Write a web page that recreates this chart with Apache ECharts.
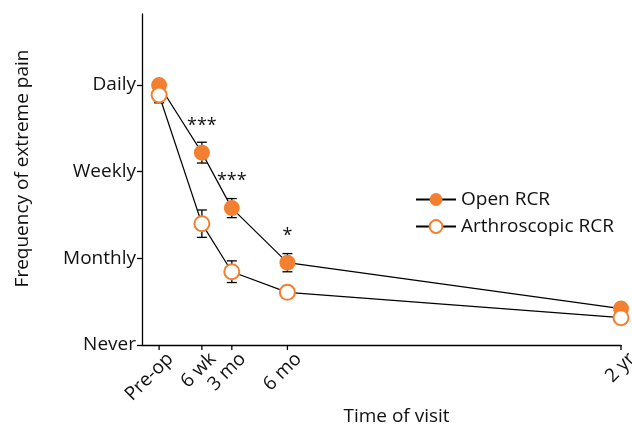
<!DOCTYPE html>
<html>
<head>
<meta charset="utf-8">
<script src="https://cdn.jsdelivr.net/npm/echarts@6/dist/echarts.min.js"></script>
<style>html,body{margin:0;padding:0;background:#fff;}#c{width:632px;height:426px;}</style>
</head>
<body>
<div id="c"></div>
<script>
const categories = ['Pre-op', '6 wk', '3 mo', '6 mo', '2 yr'];
const visitWeeks = [-4, 6, 13, 26, 104];
const openMean = [3.0, 2.22, 1.58, 0.95, 0.42];
const openErr = [0.05, 0.12, 0.11, 0.105, 0.04];
const arthroMean = [2.885, 1.40, 0.846, 0.608, 0.315];
const arthroErr = [0.09, 0.158, 0.125, 0.07, 0.04];
const significance = ['', '***', '***', '*', ''];
const yTickValues = [0, 1, 2, 3];
const yTickLabels = ['Never', 'Monthly', 'Weekly', 'Daily'];

const ORANGE = '#F28030';
const FONT = 'Open Sans';
const FS = 19;
const Y_MIN = 0;

const chart = echarts.init(document.getElementById('c'), null, {renderer: 'canvas'});

function errData(mean, err) {
  return visitWeeks.map((x, i) => [x, mean[i], err[i]]);
}
function errRender(params, api) {
  const x = api.value(0), y = api.value(1), e = api.value(2);
  const t = api.coord([x, y + e]);
  const b = api.coord([x, y - e]);
  const w = 5;
  const st = {stroke: '#000', lineWidth: 1.3};
  return {
    type: 'group',
    children: [
      {type: 'line', shape: {x1: t[0], y1: t[1], x2: b[0], y2: b[1]}, style: st},
      {type: 'line', shape: {x1: t[0] - w, y1: t[1], x2: t[0] + w, y2: t[1]}, style: st},
      {type: 'line', shape: {x1: b[0] - w, y1: b[1], x2: b[0] + w, y2: b[1]}, style: st}
    ]
  };
}
// x-axis ticks and rotated category labels, placed through the axis scale
function xLabelRender(params, api) {
  const x = api.value(0);
  const p = api.coord([x, Y_MIN]);
  return {
    type: 'group',
    children: [
      {type: 'line', shape: {x1: p[0], y1: p[1], x2: p[0], y2: p[1] + 5},
       style: {stroke: '#000', lineWidth: 1.3}},
      {type: 'text', x: p[0] + 11, y: p[1] + 11, rotation: Math.PI / 4,
       style: {text: categories[params.dataIndex], align: 'right', verticalAlign: 'middle',
               fontSize: FS, fontFamily: FONT, fill: '#111'}}
    ]
  };
}

const option = {
  animation: false,
  textStyle: {fontFamily: FONT},
  grid: {left: 142, right: 11, top: 14, bottom: 81, containLabel: false, outerBoundsMode: 'none'},
  legend: {
    left: 410, top: 185, orient: 'vertical',
    itemWidth: 40, itemHeight: 16, itemGap: 8,
    textStyle: {fontSize: FS, color: '#111', fontFamily: FONT},
    data: ['Open RCR', 'Arthroscopic RCR']
  },
  xAxis: {
    type: 'value', min: -8, max: 104,
    name: 'Time of visit', nameLocation: 'middle', nameGap: 62,
    nameTextStyle: {fontSize: FS, color: '#111', padding: [0, 0, 0, 30]},
    axisLine: {onZero: false, lineStyle: {color: '#000', width: 1.3}},
    axisTick: {show: false},
    axisLabel: {show: false},
    splitLine: {show: false}
  },
  yAxis: {
    type: 'value', min: Y_MIN, max: 3.82,
    name: 'Frequency of extreme pain', nameLocation: 'middle', nameGap: 110,
    nameTextStyle: {fontSize: FS, color: '#111', padding: [0, 0, 0, 22]},
    axisLine: {show: true, onZero: false, lineStyle: {color: '#000', width: 1.3}},
    axisTick: {show: true, customValues: yTickValues, length: 5, lineStyle: {color: '#000', width: 1.3}},
    axisLabel: {
      customValues: yTickValues, fontSize: FS, color: '#111', margin: 6,
      showMinLabel: true, showMaxLabel: true,
      formatter: v => yTickLabels[yTickValues.indexOf(v)]
    },
    splitLine: {show: false}
  },
  series: [
    {
      type: 'custom', name: 'xLabels', renderItem: xLabelRender, clip: false, silent: true, z: 1,
      data: visitWeeks.map(x => [x, Y_MIN]), encode: {x: 0, y: 1}
    },
    {
      type: 'custom', name: 'openErr', renderItem: errRender, data: errData(openMean, openErr), z: 1, silent: true
    },
    {
      type: 'custom', name: 'arthroErr', renderItem: errRender, data: errData(arthroMean, arthroErr), z: 1, silent: true
    },
    {
      type: 'line', name: 'Open RCR', z: 3,
      data: visitWeeks.map((x, i) => ({
        value: [x, openMean[i]],
        label: {show: significance[i] !== '', formatter: significance[i]}
      })),
      symbol: 'circle', symbolSize: 16,
      itemStyle: {color: ORANGE},
      lineStyle: {color: '#000', width: 1.2},
      label: {position: 'top', distance: 10, fontSize: 18, color: '#111'}
    },
    {
      type: 'line', name: 'Arthroscopic RCR', z: 4,
      data: visitWeeks.map((x, i) => [x, arthroMean[i]]),
      symbol: 'emptyCircle', symbolSize: 15,
      itemStyle: {color: ORANGE, borderColor: ORANGE, borderWidth: 2.5},
      lineStyle: {color: '#000', width: 1.2}
    }
  ]
};
chart.setOption(option);
</script>
</body>
</html>
